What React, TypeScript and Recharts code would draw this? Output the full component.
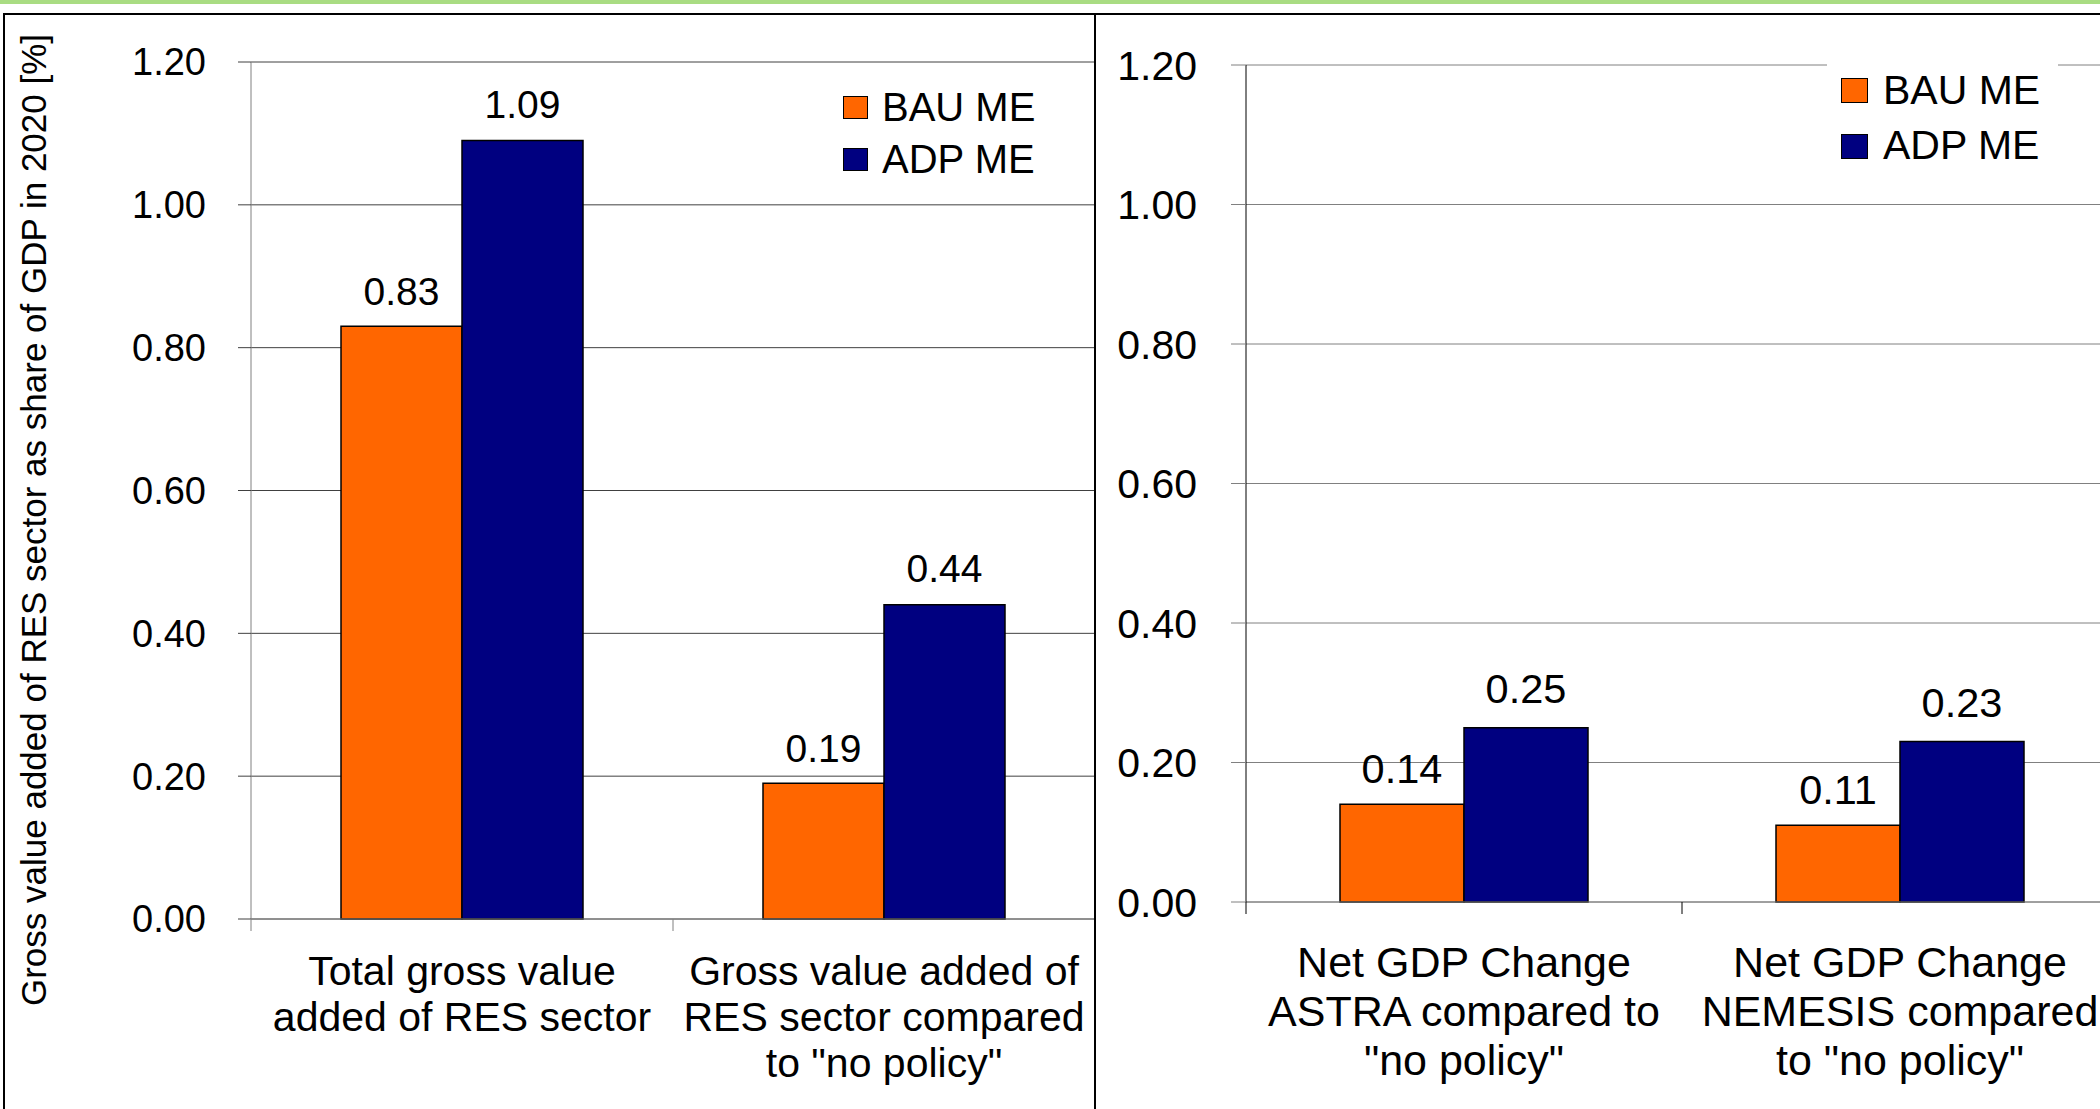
import React from "react";
import {
  BarChart,
  Bar,
  XAxis,
  YAxis,
  CartesianGrid,
  LabelList,
  Legend,
  Label,
} from "recharts";

const FONT = '"Liberation Sans", Arial, sans-serif';

// left panel: RES sector gross value added
const leftCategories = [
  "Total gross value\nadded of RES sector",
  'Gross value added of\nRES sector compared\nto "no policy"',
];
const leftBau = [0.83, 0.19];
const leftAdp = [1.09, 0.44];

// right panel: net GDP change
const rightCategories = [
  'Net GDP Change\nASTRA compared to\n"no policy"',
  'Net GDP Change\nNEMESIS compared\nto "no policy"',
];
const rightBau = [0.14, 0.11];
const rightAdp = [0.25, 0.23];

const yTicks = [0, 0.2, 0.4, 0.6, 0.8, 1.0, 1.2];
const seriesNames = ["BAU ME", "ADP ME"];
const yTitle = "Gross value added of RES sector as share of GDP in 2020 [%]";

const COLORS: Record<string, string> = { bau: "#FF6600", adp: "#000080" };

const leftData = leftCategories.map((category, i) => ({
  category,
  bau: leftBau[i],
  adp: leftAdp[i],
}));
const rightData = rightCategories.map((category, i) => ({
  category,
  bau: rightBau[i],
  adp: rightAdp[i],
}));

const fmt = (v: any) => Number(v).toFixed(2);

function CategoryTick(props: any) {
  const { x, y, payload, index, band, count, fontSize, lineGap, firstDy, tickLen, tickColor } = props;
  const lines = String(payload.value).split("\n");
  const axisY = y - tickLen;
  const left = x - band / 2;
  const right = x + band / 2;
  return (
    <g>
      <line x1={left} x2={left} y1={axisY} y2={axisY + tickLen} stroke={tickColor} strokeWidth={1} />
      {index === count - 1 && (
        <line x1={right} x2={right} y1={axisY} y2={axisY + tickLen} stroke={tickColor} strokeWidth={1} />
      )}
      <text x={x} y={y + firstDy} textAnchor="middle" fontSize={fontSize} fontFamily={FONT} fill="#000">
        {lines.map((l, i) => (
          <tspan key={i} x={x} dy={i === 0 ? 0 : lineGap}>
            {l}
          </tspan>
        ))}
      </text>
    </g>
  );
}

function makeLegend(o: {
  rowH: number;
  sw: number;
  sh: number;
  padLeft: number;
  padTop: number;
  gap: number;
  fontSize: number;
}) {
  return ({ payload }: any) => {
    const items = [...(payload ?? [])].sort(
      (a: any, b: any) => seriesNames.indexOf(a.value) - seriesNames.indexOf(b.value)
    );
    return (
      <div style={{ background: "#fff", paddingTop: o.padTop, paddingBottom: o.padTop }}>
        {items.map((item: any) => (
          <div
            key={item.value}
            style={{ display: "flex", alignItems: "center", height: o.rowH }}
          >
            <span
              style={{
                display: "inline-block",
                width: o.sw,
                height: o.sh,
                marginLeft: o.padLeft,
                marginRight: o.gap,
                background: COLORS[item.dataKey] ?? item.color,
                border: "1.5px solid #000",
                boxSizing: "border-box",
              }}
            />
            <span
              style={{
                fontSize: o.fontSize,
                fontFamily: FONT,
                color: "#000",
                lineHeight: `${o.rowH}px`,
                whiteSpace: "nowrap",
              }}
            >
              {item.value}
            </span>
          </div>
        ))}
      </div>
    );
  };
}

export default function App() {
  return (
    <div
      style={{
        position: "absolute",
        left: 0,
        top: 0,
        width: 2100,
        height: 1109,
        overflow: "hidden",
        background: "#fff",
      }}
    >
      <div style={{ position: "absolute", left: 0, top: 0, width: 2100, height: 4, background: "#a9dc82" }} />
      <div
        style={{
          position: "absolute",
          left: 0,
          top: 15,
          width: 2100,
          height: 1094,
          overflow: "hidden",
        }}
      >
        {/* left panel */}
        <div style={{ position: "absolute", left: 0, top: -15 }}>
          <BarChart
            width={1095}
            height={1109}
            data={leftData}
            margin={{ top: 62, right: 0, left: 0, bottom: 0 }}
            barGap={0}
          >
            <CartesianGrid vertical={false} stroke="#404040" strokeWidth={1} />
            <XAxis
              dataKey="category"
              height={190}
              interval={0}
              tickSize={12}
              tickMargin={0}
              tickLine={false}
              axisLine={{ stroke: "#808080" }}
              tick={(p: any) => (
                <CategoryTick
                  {...p}
                  band={422}
                  count={leftData.length}
                  fontSize={41}
                  lineGap={46}
                  firstDy={54}
                  tickLen={12}
                  tickColor="#808080"
                />
              )}
            />
            <YAxis
              width={251}
              domain={[0, 1.2]}
              ticks={yTicks}
              interval={0}
              tickFormatter={fmt}
              tickSize={13}
              tickMargin={32}
              axisLine={{ stroke: "#808080" }}
              tickLine={{ stroke: "#404040" }}
              tick={{ fontSize: 38, fill: "#000", fontFamily: FONT }}
            >
              <Label
                content={() => (
                  <text
                    transform="translate(46,520) rotate(-90)"
                    textAnchor="middle"
                    fontSize={35}
                    fontFamily={FONT}
                    fill="#000"
                  >
                    {yTitle}
                  </text>
                )}
              />
            </YAxis>
            <Legend
              layout="vertical"
              align="center"
              verticalAlign="middle"
              wrapperStyle={{ left: 829, top: 82, width: 240 }}
              content={makeLegend({
                rowH: 51.5,
                sw: 25,
                sh: 23,
                padLeft: 14,
                padTop: 0,
                gap: 14,
                fontSize: 40,
              })}
            />
            <Bar
              dataKey="bau"
              name={seriesNames[0]}
              fill={COLORS.bau}
              stroke="#000"
              strokeWidth={1.5}
              barSize={121}
              isAnimationActive={false}
            >
              <LabelList
                dataKey="bau"
                position="top"
                offset={21}
                formatter={fmt}
                fill="#000"
                fontSize={39}
                fontFamily={FONT}
              />
            </Bar>
            <Bar
              dataKey="adp"
              name={seriesNames[1]}
              fill={COLORS.adp}
              stroke="#000"
              strokeWidth={1.5}
              barSize={121}
              isAnimationActive={false}
            >
              <LabelList
                dataKey="adp"
                position="top"
                offset={23}
                formatter={fmt}
                fill="#000"
                fontSize={39}
                fontFamily={FONT}
              />
            </Bar>
          </BarChart>
        </div>

        {/* right panel */}
        <div style={{ position: "absolute", left: 1095, top: -15 }}>
          <BarChart
            width={1023}
            height={1109}
            data={rightData}
            margin={{ top: 65, right: 0, left: 0, bottom: 0 }}
            barGap={0}
          >
            <CartesianGrid vertical={false} stroke="#808080" strokeWidth={1} />
            <XAxis
              dataKey="category"
              height={207}
              interval={0}
              tickSize={12}
              tickMargin={0}
              tickLine={false}
              axisLine={{ stroke: "#808080" }}
              tick={(p: any) => (
                <CategoryTick
                  {...p}
                  band={436}
                  count={rightData.length}
                  fontSize={43}
                  lineGap={49}
                  firstDy={63}
                  tickLen={12}
                  tickColor="#000"
                />
              )}
            />
            <YAxis
              width={151}
              domain={[0, 1.2]}
              ticks={yTicks}
              interval={0}
              tickFormatter={fmt}
              tickSize={15}
              tickMargin={34}
              axisLine={{ stroke: "#000" }}
              tickLine={{ stroke: "#808080" }}
              tick={{ fontSize: 41, fill: "#000", fontFamily: FONT }}
            />
            <Legend
              layout="vertical"
              align="center"
              verticalAlign="middle"
              wrapperStyle={{ left: 732, top: 50, width: 231 }}
              content={makeLegend({
                rowH: 55.5,
                sw: 27,
                sh: 25,
                padLeft: 14,
                padTop: 12.75,
                gap: 15,
                fontSize: 41,
              })}
            />
            <Bar
              dataKey="bau"
              name={seriesNames[0]}
              fill={COLORS.bau}
              stroke="#000"
              strokeWidth={1.5}
              barSize={124}
              isAnimationActive={false}
            >
              <LabelList
                dataKey="bau"
                position="top"
                offset={21}
                formatter={fmt}
                fill="#000"
                fontSize={41.5}
                fontFamily={FONT}
              />
            </Bar>
            <Bar
              dataKey="adp"
              name={seriesNames[1]}
              fill={COLORS.adp}
              stroke="#000"
              strokeWidth={1.5}
              barSize={124}
              isAnimationActive={false}
            >
              <LabelList
                dataKey="adp"
                position="top"
                offset={25}
                formatter={fmt}
                fill="#000"
                fontSize={41.5}
                fontFamily={FONT}
              />
            </Bar>
          </BarChart>
        </div>
      </div>

      {/* frame lines */}
      <div style={{ position: "absolute", left: 3, top: 13, width: 2097, height: 2, background: "#000" }} />
      <div style={{ position: "absolute", left: 3, top: 13, width: 2, height: 1096, background: "#000" }} />
      <div style={{ position: "absolute", left: 1094, top: 13, width: 2, height: 1096, background: "#000" }} />
    </div>
  );
}
